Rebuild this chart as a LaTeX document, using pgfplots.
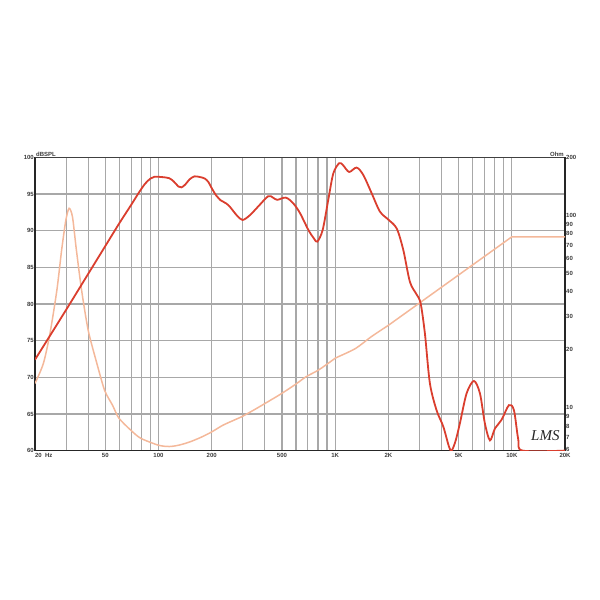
\documentclass[border=0pt]{standalone}
\usepackage{pgfplots}
\pgfplotsset{compat=1.18}
\usepackage{fontspec}
\setmainfont{Liberation Sans}
\newfontfamily\sigfont{Liberation Serif}
\definecolor{splred}{RGB}{218,62,46}
\definecolor{impsalmon}{RGB}{244,184,154}
\definecolor{gridgray}{RGB}{168,168,168}
\definecolor{lblgray}{RGB}{60,60,60}

\pgfplotstableread{
f db
20 72.4
30 79.2
40 84.1
50 87.9
60 91.0
70 93.5
78 95.3
84 96.4
90 97.1
95 97.35
105 97.3
115 97.15
122 96.7
130 96.0
135 95.9
142 96.3
150 97.0
160 97.4
172 97.3
183 97.1
192 96.6
200 95.8
212 94.8
223 94.2
248 93.5
277 92.1
299 91.45
329 92.1
367 93.3
418 94.7
445 94.5
470 94.2
526 94.5
580 93.7
632 92.4
705 90.1
760 88.9
793 88.5
850 90.1
914 94.2
976 97.8
1055 99.2
1110 98.9
1200 98.0
1322 98.6
1442 97.6
1609 95.1
1792 92.6
2000 91.5
2229 90.3
2428 87.4
2650 83.0
2890 81.3
3045 80.1
3220 76.0
3436 69.2
3750 65.5
4090 63.3
4400 60.6
4560 60.0
4800 61.3
5080 63.7
5545 67.8
6100 69.5
6600 67.8
7040 63.7
7520 61.4
8020 63.0
8750 64.2
9630 66.2
10280 65.5
10880 61.5
11510 60.0
20000 60.0
}\spl

\pgfplotstableread{
f r
20 13.4
22.3 17.0
24.3 24.3
26.6 40.9
28.3 66
29.9 94.4
31.2 108.7
32.6 98
34.3 66
36.7 40.9
40 25.3
44.8 17.0
49.6 12.3
55 10.3
59.7 8.84
69.9 7.64
79.4 6.95
100 6.4
115 6.3
130 6.4
150 6.65
175 7.05
200 7.5
230 8.1
265 8.6
299 9.04
350 9.8
398 10.5
496 11.85
600 13.3
684 14.5
803 15.7
935 17.3
1000 18.1
1300 20.3
1600 23.4
2009 26.9
}\imp

\pgfplotstableread{
f r
2009 26.9
10000 77.3
20000 77.3
}\impb

\pgfplotsset{
  every axis/.append style={
    xmode=log, xmin=20, xmax=20000,
    scale only axis, width=530pt, height=293.3pt,
    at={(35pt,149.4pt)}, anchor=south west,
    major tick length=0pt, minor tick length=0pt,
    tick label style={font=\fontsize{6}{7}\selectfont\bfseries, text=lblgray},
  }
}

\begin{document}
\begin{tikzpicture}
\useasboundingbox (0,0) rectangle (600pt,600pt);
% axis 1: grid and left labels
\begin{axis}[
  ymin=60, ymax=100,
  ytick={60,65,70,75,80,85,90,95,100},
  yticklabels={60,65,70,75,80,85,90,95,100},
  yticklabel style={inner sep=1pt},
  xtick={20,50,100,200,500,1000,2000,5000,10000,20000},
  xticklabels={\rlap{20\ \ Hz},50,100,200,500,1K,2K,5K,10K,20K},
  xticklabel style={inner sep=1pt, yshift=-1.8pt},
  minor xtick={30,40,60,70,80,90,300,400,600,700,800,900,3000,4000,6000,7000,8000,9000},
  grid=both,
  major grid style={gridgray, line width=1.2pt},
  minor grid style={gridgray, line width=1.2pt},
  axis line style={black!85, line width=1.6pt},
  axis y line*=left, axis x line*=bottom,
  clip=false,
]
\addplot[draw=none] coordinates {(20,60) (20000,60)};
\node[anchor=south west, inner sep=1pt, font=\fontsize{6}{7}\selectfont\bfseries, text=lblgray] at (rel axis cs:0,1) {dBSPL};
\node[anchor=south east, inner sep=1pt, font=\fontsize{6}{7}\selectfont\bfseries, text=lblgray] at (rel axis cs:1,1) {Ohm};
\draw[black!75, line width=1.3pt] (rel axis cs:0,1) -- (rel axis cs:1,1);
\end{axis}
% axis 2: impedance, right axis
\begin{axis}[
  ymode=log, ymin=6, ymax=200,
  axis y line*=right, axis x line=none,
  ytick={6,7,8,9,10,20,30,40,50,60,70,80,90,100,200},
  yticklabels={\raisebox{2pt}{6},7,8,9,10,20,30,40,50,60,70,80,90,100,200},
  yticklabel style={inner sep=1pt},
  axis line style={black!85, line width=1.6pt},
]
\addplot[impsalmon, line width=1.5pt, smooth, tension=0.45] table[x=f, y=r] {\imp};
\addplot[impsalmon, line width=1.5pt, sharp plot] table[x=f, y=r] {\impb};
\end{axis}
% axis 3: SPL
\begin{axis}[hide axis, ymin=60, ymax=100]
\addplot[splred, line width=1.8pt, smooth, tension=0.5] table[x=f, y=db] {\spl};
\node[font=\sigfont\itshape\fontsize{15}{15}\selectfont, text=black!85] at (rel axis cs:0.963,0.05) {LMS};
\end{axis}
\end{tikzpicture}
\end{document}
